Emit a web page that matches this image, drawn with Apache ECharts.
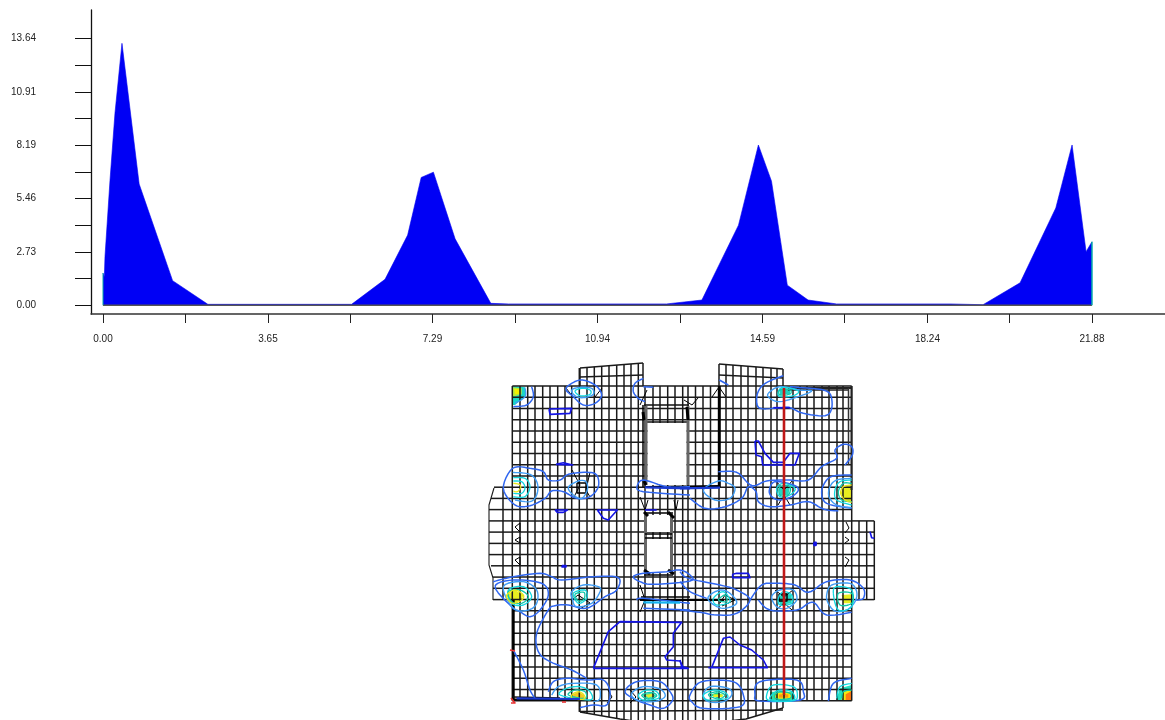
<!DOCTYPE html>
<html><head><meta charset="utf-8">
<style>html,body{margin:0;padding:0;background:#fff}#c{width:1165px;height:720px}</style>
<script src="https://cdn.jsdelivr.net/npm/echarts@6/dist/echarts.min.js"></script>
</head><body><div id="c"></div>
<script>
// ---- top chart data ----
const areaX=[0,0.03,0.044,0.155,0.265,0.42,0.8,1.54,2.32,5.50,6.24,6.74,7.04,7.31,7.79,8.58,8.97,12.47,13.25,14.06,14.5,14.79,15.14,15.6,16.23,17.5,18.74,19.47,20.29,21.08,21.44,21.75,21.88];
const areaY=[1.65,1.46,2.5,6.4,9.83,13.4,6.2,1.26,0.05,0.05,1.33,3.59,6.54,6.81,3.4,0.1,0.07,0.07,0.27,4.1,8.2,6.35,1.03,0.27,0.07,0.07,0.07,0.03,1.15,4.98,8.2,2.74,3.25];
const baselineX=[0,21.88];
const baselineY=[0,0];
const xTickValues=[0,1.823,3.647,5.47,7.293,9.117,10.94,12.763,14.587,16.41,18.233,20.057,21.88];
const xLabelValues=[0,3.65,7.29,10.94,14.59,18.24,21.88];
const yTickValues=[0,1.364,2.728,4.092,5.456,6.82,8.184,9.548,10.912,12.276,13.64];
const yLabelValues=[0,2.73,5.46,8.19,10.91,13.64];
// ---- plan mesh ----
const meshX=[512.3,520,527.7,535,542.7,550,557.7,565,571.7,579.3,587,594.3,601.7,609,616.7,624,631,638.3,645,653,660,667.7,675,682.7,688,695.5,703,710.5,719,726,733,741,748,756,763,771,777,784,793,800,807,814,822,829,837,843,851.7];
const meshY=[386,397.2,408.5,419.7,431,442.2,453.4,464.7,475.9,487.2,498.4,509.6,520.9,532.1,543.4,554.6,565.8,577.1,588.3,599.6,610.8,622,633.3,644.5,655.8,667,678.2,689.5,700.7];
const leftWingX=[503];
const leftWingEdge=[494,491,489,489,489,489,489,491,493,493,493];
const rightWingX=[859,866.7,874.3];
const holes=[[647.5,423,686.5,485],[647,515,670,532],[647,539,670,573]];
// contour tracings, in 3x tile units, by tile of the plan: [level, closed, flat points]
const tileNW=[480,355];
const tileNE=[680,355];
const tileSW=[480,535];
const tileSE=[680,535];
const contoursNW=[
 ['a',0,[100,155,140,150,160,125,155,95]],
 ['b',0,[105,145,135,125,135,98]],
 ['a',1,[300,75,345,90,365,120,345,145,310,150,280,125,258,100]],
 ['b',1,[275,105,300,97,335,100,340,118,310,128,285,122]],
 ['c',1,[285,108,305,100,330,105,330,118,300,122]],
 ['a',0,[490,70,465,85,460,110,475,130,495,140]],
 ['a',0,[490,95,520,97]],
 ['d',1,[207,162,275,160,270,175,210,178]],
 ['d',1,[228,328,250,323,278,330]],
 ['a',1,[98,340,150,340,190,350,205,375,240,375,265,358,320,352,350,360,355,395,330,425,290,430,250,410,215,408,195,430,150,452,105,450,70,400]],
 ['b',0,[98,352,150,358,172,385,170,420,150,440,105,435]],
 ['c',0,[100,368,135,370,150,395,135,425,100,425]],
 ['c',0,[100,378,125,380,135,398,125,415,100,415]],
 ['e',0,[100,385,118,388,122,398,112,410,100,408]],
 ['b',1,[265,397,295,378,318,380,322,405,305,430,280,420]],
 ['a',0,[470,395,490,375,560,395,630,395]],
 ['a',0,[470,395,490,410,630,420]],
 ['h',0,[495,397,630,400]],
 ['d',1,[225,465,262,465,250,472,232,472]],
 ['d',1,[352,465,412,465,385,495,370,490]],
 ['d',0,[495,465,530,465]]
];
const contoursNE=[
 ['a',0,[118,75,145,90]],
 ['a',0,[310,62,265,80,240,100,230,130,240,160,300,158,330,158,370,175,435,182,455,160,452,120,430,105,390,100,330,95]],
 ['b',1,[265,115,300,95,360,105,395,108,355,125,300,140,270,130]],
 ['c',1,[295,110,310,97,355,108,340,122,300,125]],
 ['f',1,[300,105,330,105,330,117,300,120]],
 ['d',1,[225,258,235,258,255,295,280,322,310,322,330,295,358,295,345,330,248,330,245,305,228,300]],
 ['d',0,[280,158,330,158]],
 ['a',0,[115,350,170,352,205,385,225,392,260,378,320,375,385,375,425,335,470,310,465,285,490,268,515,275,517,300,495,330]],
 ['a',0,[30,430,75,460,135,455,185,430,205,395,228,410,235,440,270,455,330,450,385,440,430,462,475,468]],
 ['b',1,[70,405,105,435,150,430,165,400,145,385,115,378]],
 ['a',1,[268,405,285,380,340,390,355,405,335,425,300,435,275,425]],
 ['c',1,[290,400,310,385,345,400,330,420,300,425]],
 ['f',1,[300,395,330,395,325,420,300,420]],
 ['a',0,[515,360,465,362,440,375,425,410,440,445,515,460]],
 ['b',0,[515,370,470,375,450,395,447,425,470,450,515,458]],
 ['c',0,[515,375,480,380,465,405,470,435,515,450]],
 ['f',0,[515,385,490,385,475,410,485,435,515,440]],
 ['e',0,[515,390,490,395,482,415,495,435,515,442]],
 ['d',0,[570,530,575,548,583,550]],
 ['d',1,[402,562,408,562,408,569,402,569]],
 ['h',0,[0,400,120,398]]
];
const contoursSW=[
 ['a',0,[40,140,100,125,180,115,215,125,245,135,340,125,415,128,410,165,375,185,320,220,265,210,225,212,205,225,170,295,175,350,210,380,275,405,320,430]],
 ['a',1,[45,155,100,135,185,145,205,180,180,225,150,245,120,230,95,215]],
 ['b',1,[70,155,130,140,170,165,170,205,145,225,100,220]],
 ['c',1,[85,165,130,155,155,185,130,210,95,205]],
 ['f',1,[85,170,120,165,145,185,125,205,95,200]],
 ['e',1,[80,180,105,165,130,180,125,195,100,205,85,195]],
 ['b',1,[275,170,310,150,355,155,360,170,335,205,290,215,278,195]],
 ['c',1,[280,175,315,165,320,190,295,205]],
 ['f',1,[285,178,312,172,312,192,295,198]],
 ['d',1,[340,400,385,290,420,260,605,262,580,295,580,335,555,365,560,375,600,378,610,398,625,400]],
 ['a',0,[100,345,130,405,150,465,165,490]],
 ['a',0,[205,470,220,440,260,430,320,435,370,435,390,470,380,510,340,510,300,518]],
 ['b',0,[215,480,235,455,280,445,350,450,360,490,340,500]],
 ['c',1,[240,480,260,460,300,455,330,470,330,495]],
 ['f',1,[265,480,285,465,315,470,315,490]],
 ['e',1,[275,480,295,470,312,480,312,492,280,492]],
 ['a',1,[435,470,470,440,540,440,570,470,578,495,550,520,510,510,470,495]],
 ['b',1,[455,475,490,455,540,462,555,485,520,500,470,495]],
 ['c',1,[475,480,500,465,530,470,535,490,490,495]],
 ['f',1,[485,480,515,472,530,483,505,492]],
 ['h',0,[110,490,300,492]],
 ['a',1,[460,125,490,115,560,110,600,105,630,120,630,138,520,148,480,140]],
 ['a',0,[470,195,490,190,630,205]],
 ['a',0,[490,220,630,225]],
 ['g',0,[490,202,600,203]],
 ['d',1,[246,92,258,92,258,96,246,96]]
];
const contoursSE=[
 ['a',0,[0,110,25,130,120,150,170,165,210,195,170,235,110,240,60,232,0,225]],
 ['a',0,[0,140,30,170,80,190]],
 ['b',1,[85,185,120,165,150,175,170,205,130,220,95,205]],
 ['c',1,[100,190,130,170,150,200,110,210]],
 ['f',1,[115,195,135,180,140,200]],
 ['d',1,[158,118,170,115,205,115,210,128,158,128]],
 ['a',0,[210,195,245,150,290,145,345,150,385,172,440,140,510,135,550,160,550,190,525,195]],
 ['a',0,[235,195,270,225,350,225,385,205,405,205,440,240,515,232]],
 ['b',1,[275,185,300,165,340,165,350,195,320,220,290,215]],
 ['c',1,[295,190,310,170,335,180,335,205,300,210]],
 ['b',1,[440,180,455,150,510,145,530,170,525,200,500,225,465,228,445,205]],
 ['c',1,[460,175,470,155,515,165,515,215,475,225]],
 ['f',1,[475,175,515,175,515,205,480,210]],
 ['a',1,[30,480,65,440,160,440,190,480,180,515,70,520,35,500]],
 ['b',1,[70,480,90,455,145,460,155,480,130,500,85,500]],
 ['c',1,[70,480,100,465,135,472,140,490,85,495]],
 ['f',1,[85,480,110,470,135,480,115,492]],
 ['a',1,[225,480,240,440,350,435,370,470,360,495,240,498]],
 ['c',1,[260,480,280,450,340,455,352,480,340,497,270,497]],
 ['c',1,[275,480,300,465,335,470,340,495,275,495]],
 ['f',1,[285,480,300,470,330,475,330,490,290,492]],
 ['a',0,[445,498,460,445,515,430]],
 ['c',0,[470,490,480,455,515,445]],
 ['f',0,[485,490,490,470,515,465]],
 ['d',0,[95,398,130,310,150,306,180,330,215,345,250,375,262,398,85,398]],
 ['d',0,[0,375,5,395,20,398,0,398]],
 ['d',1,[402,25,408,25,408,31,402,31]]
];
// hot spots filled [colour, tile, flat points]
const hotFills=[
 ['#19d6c8',tileNW,[97,93,135,97,135,125,105,150,97,150]],
 ['#b8e838',tileNW,[97,97,125,100,125,118,105,124,97,124]],
 ['#f4f000',tileNW,[103,102,120,103,120,116,105,118]],
 ['#e8ee20',tileNE,[515,390,490,395,482,415,495,435,515,442]],
 ['#e8ee20',tileSW,[80,180,105,165,130,180,125,195,100,205,85,195]],
 ['#f2c820',tileSW,[275,480,295,470,312,480,312,492,280,492]],
 ['#10d8a0',tileSE,[90,480,110,472,130,480,112,490]],
 ['#e8f020',tileSE,[100,478,128,478,128,486,100,486]],
 ['#35e0a0',tileSE,[270,470,340,470,345,495,270,495]],
 ['#f4ec10',tileSE,[285,473,333,473,333,492,285,492]],
 ['#ff9a10',tileSE,[297,478,325,478,325,488,297,488]],
 ['#25e0c0',tileSE,[470,490,480,460,515,450,515,498,470,498]],
 ['#f0ec10',tileSE,[485,490,490,470,515,465,515,498,485,498]],
 ['#ff7a10',tileSE,[497,478,515,468,515,497,497,497]],
 ['#e8ee20',tileSE,[485,180,515,178,515,205,490,205]],
 ['#20d8c0',tileSE,[295,190,310,170,335,180,335,205,300,210]],
 ['#30e0b0',tileSW,[485,480,515,472,530,483,505,492]],
 ['#e0ec30',tileSW,[495,480,515,476,522,483,505,488]],
 ['#20d0c0',tileNE,[300,100,330,100,330,117,300,120]],
 ['#25d8c0',tileNE,[295,395,330,395,325,420,300,420]]
];
// walls in plan pixels: [width, colour, points]
const walls=[
 [2.4,'#000',[513.5,600,513.5,700]],
 [2,'#000',[513,699.5,580,699.5]],
 [1.6,'#111',[513,697,560,698]],
 [3,'#000',[719.3,386,719.3,487]],
 [2,'#000',[645,487,720,486]],
 [2,'#222',[788,388,851,388]],
 [1.5,'#222',[788,390,848,390]],
 [2,'#222',[851.5,386,851.5,490]],
 [1.5,'#333',[848.5,388,848.5,465]],
 [1.6,'#111',[644,405,689,405]],
 [1.4,'#111',[646,422,688,422]],
 [3,'#666',[646,406,646,485]],
 [3,'#666',[688,406,688,485]],
 [1.5,'#000',[643,405,643,487]],
 [3,'#666',[645.5,514,645.5,574]],
 [3,'#666',[671.5,514,671.5,574]],
 [1.6,'#111',[644,513,673,513]],
 [1.6,'#111',[644,575,673,575]],
 [1.5,'#000',[645,534,672,534]],
 [1.5,'#000',[645,538,672,538]],
 [1.8,'#000',[640,600,724,600]],
 [1.5,'#000',[641,597,690,597]],
 [3,'#000',[643,412,644,420]],
 [3,'#000',[687,407,688,420]],
 [3,'#000',[644,481,646,485]],
 [3,'#000',[644,570,650,574]],
 [3,'#000',[668,570,674,574]],
 [3,'#000',[668,512,674,518]],
 [3,'#000',[644,512,648,516]],
 [1,'#000',[566,388,573,397]],
 [1,'#000',[602,388,595,397]],
 [1,'#000',[712,397,719,387,726,397]],
 [1,'#000',[684,400,692,405,698,398]],
 [1,'#000',[640,405,647,390]],
 [1,'#000',[572,470,580,485,574,497]],
 [1,'#000',[590,472,586,490,590,497]],
 [1.4,'#000',[577,483,586,483,586,493,577,493,577,483]],
 [1,'#000',[775,480,784,490,793,480]],
 [1,'#000',[778,505,784,495,790,505]],
 [1,'#000',[572,600,578,595,590,603,578,610]],
 [1,'#000',[720,603,725,595,735,600,722,606]],
 [1.4,'#000',[779,594,787,594,787,601,779,601,779,594]],
 [1,'#000',[775,590,784,597,793,590]],
 [1,'#000',[776,610,784,603,792,610]],
 [1,'#000',[640,497,645,510,648,500]],
 [1,'#000',[674,500,676,510,678,500]],
 [1,'#000',[640,585,645,600,640,612]],
 [1,'#000',[675,578,675,598]],
 [1,'#000',[608,690,612,697,607,703]],
 [1,'#000',[630,690,636,697,630,703]],
 [1,'#000',[515,540,520,537,520,543,515,540]],
 [1,'#000',[515,560,520,557,520,565,515,560]],
 [1,'#000',[515,527,520,523,520,532,515,527]],
 [1,'#000',[846,522,849,528,845,533]],
 [1,'#000',[845,537,849,540,845,543]],
 [1,'#000',[845,557,849,560,845,567]]
];
const outlineLeftWing=[494,488,489,505,489,565,493,578,493,600];
const topLeftProfile=[580,368,643,363];
const topRightProfile=[719,364,783,369];
const bottomProfile=[580,712,620,719,640,722,720,722,746,719,783,708];
const redLine=[784,388,784,695];
const redMarks=[[510,650,515,651],[511,698,515,703,511,703],[562,702,566,702]];

// ---- build plan shapes ----
const lvl={a:['#2f66f0',1.5,1],b:['#3f9df5',1.4,1],c:['#12d8e0',1.3,1],d:['#1414e6',1.6,0],e:['#e6e61a',1.3,1],f:['#10c8a8',1.3,1],g:['#16b4f0',2.4,0],h:['#1a3ad0',2.2,0]};
const pairs=a=>{const r=[];for(let i=0;i<a.length;i+=2)r.push([a[i],a[i+1]]);return r;};
const profAt=(p,x)=>{const q=pairs(p);for(let i=1;i<q.length;i++){if(x<=q[i][0]){const t=(x-q[i-1][0])/(q[i][0]-q[i-1][0]);return q[i-1][1]+t*(q[i][1]-q[i-1][1]);}}return q[q.length-1][1];};
// rounds a traced contour so its corners read as curves
const rounded=(p,closed)=>{
 const n=p.length,out=[];if(n<3)return p.slice();
 const at=i=>closed?p[(i+n)%n]:p[Math.max(0,Math.min(n-1,i))];
 const segs=closed?n:n-1;
 for(let i=0;i<segs;i++){
  const a=at(i-1),b=at(i),c=at(i+1),d=at(i+2);
  for(let k=0;k<6;k++){const t=k/6,t2=t*t,t3=t2*t;
   out.push([0,1].map(j=>0.5*(2*b[j]+(c[j]-a[j])*t+(2*a[j]-5*b[j]+4*c[j]-d[j])*t2+(3*b[j]-a[j]-3*c[j]+d[j])*t3)));}
 }
 out.push(closed?p[0]:p[n-1]);return out;
};
const fillShapes=hotFills.map(h=>({poly:1,fill:h[0],pts:pairs(h[2]).map(p=>[h[1][0]+p[0]/3,h[1][1]+p[1]/3])}));
const meshShapes=[];
const mk=(pts,w,c)=>meshShapes.push({pts,w:w||1.5,c:c||'#1a1a1a'});
meshX.forEach(x=>mk([[x,meshY[0]],[x,meshY[28]]]));
meshY.forEach(y=>mk([[meshX[0],y],[meshX[46],y]]));
meshY.slice(9,20).forEach((y,i)=>mk([[leftWingEdge[i],y],[512,y]]));
leftWingX.forEach(x=>mk([[x,488],[x,600]]));
mk(pairs(outlineLeftWing),1.1);
meshY.slice(12,20).forEach(y=>mk([[852,y],[874.3,y]]));
rightWingX.forEach(x=>mk([[x,521],[x,600]]));
meshX.slice(9,18).forEach(x=>mk([[x,profAt(topLeftProfile,x)],[x,386]]));
mk(pairs(topLeftProfile));mk([[580,377],[643,375]]);mk([[580,368],[580,386]]);mk([[643,363],[643,386]]);
meshX.slice(28,37).forEach(x=>mk([[x,profAt(topRightProfile,x)],[x,386]]));
mk(pairs(topRightProfile));mk([[719,375],[783,378]]);mk([[783,369],[783,386]]);
meshX.slice(9,37).forEach(x=>mk([[x,700],[x,profAt(bottomProfile,x)]]));
mk(pairs(bottomProfile));mk([[580,700],[580,712]]);mk([[783,700],[783,708]]);mk([[580,711.5],[783,710]]);
const holeShapes=holes.map(h=>({poly:1,fill:'#fff',pts:[[h[0],h[1]],[h[2],h[1]],[h[2],h[3]],[h[0],h[3]]]}));
const wallShapes=walls.map(w=>({pts:pairs(w[2]),w:w[0],c:w[1]}));
const contourShapes=[];
[[tileNW,contoursNW],[tileNE,contoursNE],[tileSW,contoursSW],[tileSE,contoursSE]].forEach(([t,list])=>list.forEach(l=>{
 const L=lvl[l[0]];
 let pts=pairs(l[2]).map(p=>[t[0]+p[0]/3,t[1]+p[1]/3]);
 if(L[2])pts=rounded(pts,!!l[1]);else if(l[1])pts.push(pts[0]);
 contourShapes.push({pts,c:L[0],w:L[1]});
}));
const redShapes=[{pts:pairs(redLine),w:2.6,c:'#c01818'}].concat(redMarks.map(m=>({pts:pairs(m),w:1.6,c:'#e83030'})));
const planSeries=(shapes,z)=>({
 type:'custom',xAxisIndex:1,yAxisIndex:1,silent:true,animation:false,clip:false,z,
 data:shapes.map((s,i)=>[i,0]),encode:{x:0,y:1},
 renderItem:(p,api)=>{
  const s=shapes[p.dataIndex];
  const points=s.pts.map(q=>api.coord(q));
  return s.poly?{type:'polygon',shape:{points},style:{fill:s.fill,stroke:null}}
               :{type:'polyline',shape:{points},style:{stroke:s.c,lineWidth:s.w,fill:null,lineJoin:'round'}};
 }
});
const chart=echarts.init(document.getElementById('c'),null,{renderer:'canvas'});
const font={fontFamily:'Liberation Sans, Arial, sans-serif',fontSize:10,color:'#222'};
chart.setOption({
 animation:false,backgroundColor:'#fff',
 grid:[{left:91,top:10,right:0,height:304,containLabel:false},{left:0,top:0,width:1165,height:720}],
 xAxis:[
  {type:'value',gridIndex:0,min:-0.2655,max:23.496,splitLine:{show:false},
   axisLine:{onZero:false,lineStyle:{color:'#333',width:1.5}},
   axisTick:{length:9,lineStyle:{color:'#222',width:1},customValues:xTickValues},
   axisLabel:Object.assign({margin:20,customValues:xLabelValues,formatter:v=>v.toFixed(2),showMinLabel:true,showMaxLabel:true},font)},
  {type:'value',gridIndex:1,min:0,max:1165,show:false}
 ],
 yAxis:[
  {type:'value',gridIndex:0,min:-0.445,max:15.105,splitLine:{show:false},
   axisLine:{onZero:false,lineStyle:{color:'#111',width:1.3}},
   axisTick:{length:16,lineStyle:{color:'#111',width:1},customValues:yTickValues},
   axisLabel:Object.assign({margin:55,align:'right',padding:[5,0,0,0],customValues:yLabelValues,formatter:v=>v.toFixed(2)},font)},
  {type:'value',gridIndex:1,min:0,max:720,inverse:true,show:false}
 ],
 series:[
  {type:'line',xAxisIndex:0,yAxisIndex:0,showSymbol:false,silent:true,z:3,
   data:areaX.map((x,i)=>[x,areaY[i]]),lineStyle:{color:'#0000f0',width:0.6},areaStyle:{color:'#0000f5',opacity:1}},
  {type:'line',xAxisIndex:0,yAxisIndex:0,showSymbol:false,silent:true,z:4,
   data:baselineX.map((x,i)=>[x,baselineY[i]]),lineStyle:{color:'#555',width:1.4}},
  {type:'line',xAxisIndex:0,yAxisIndex:0,showSymbol:false,silent:true,z:4,
   data:[[areaX[0],0],[areaX[0],areaY[0]]],lineStyle:{color:'#00a8a8',width:1}},
  {type:'line',xAxisIndex:0,yAxisIndex:0,showSymbol:false,silent:true,z:4,
   data:[[areaX[areaX.length-1],0],[areaX[areaX.length-1],areaY[areaY.length-1]]],lineStyle:{color:'#00a8a8',width:1.5}},
  planSeries(fillShapes,5),
  planSeries(meshShapes,6),
  planSeries(holeShapes,7),
  planSeries(wallShapes,8),
  planSeries(contourShapes,9),
  planSeries(redShapes,10)
 ]
});
</script></body></html>
